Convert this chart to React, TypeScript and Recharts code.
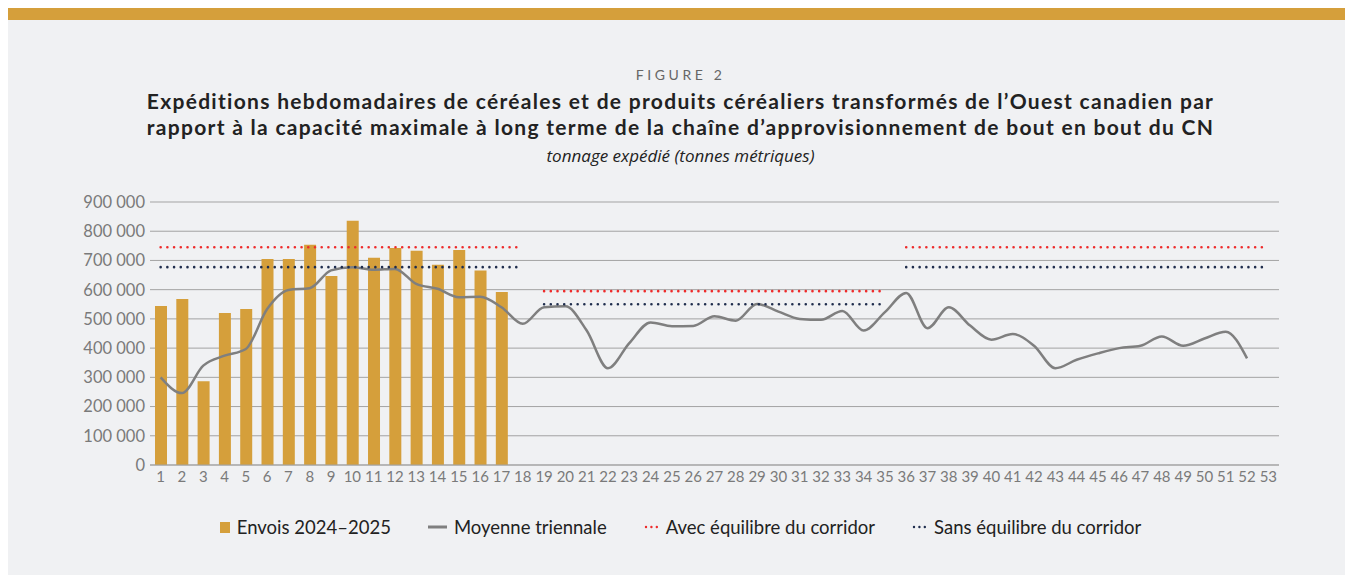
import React from 'react';
import {
  ComposedChart,
  Bar,
  Line,
  XAxis,
  YAxis,
  CartesianGrid,
} from 'recharts';

const weeks = [
  '1', '2', '3', '4', '5', '6', '7', '8', '9', '10', '11', '12', '13', '14', '15', '16', '17', '18',
  '19', '20', '21', '22', '23', '24', '25', '26', '27', '28', '29', '30', '31', '32', '33', '34', '35',
  '36', '37', '38', '39', '40', '41', '42', '43', '44', '45', '46', '47', '48', '49', '50', '51', '52', '53',
];

// Envois 2024–2025 (semaines 1 à 17)
const envois = [
  544000, 568000, 287000, 520000, 534000, 705000, 705000, 754000, 647000, 836000,
  709000, 743000, 733000, 685000, 736000, 666000, 592000,
];

// Moyenne triennale (semaines 1 à 52)
const moyenne = [
  300000, 246000, 340000, 374000, 397000, 534000, 599000, 605000, 666000, 677000,
  668000, 671000, 620000, 603000, 574000, 576000, 540000, 483000, 540000, 543000,
  460000, 331000, 417000, 488000, 475000, 476000, 509000, 494000, 551000, 525000,
  500000, 497000, 527000, 460000, 523000, 589000, 468000, 540000, 477000, 429000,
  448000, 408000, 331000, 360000, 382000, 400000, 408000, 440000, 408000, 433000,
  456000, 365000,
];

// [première semaine, dernière semaine, valeur]
const avecSegments = [
  [1, 18, 745000],
  [19, 35, 595000],
  [36, 53, 745000],
];
const sansSegments = [
  [1, 18, 677000],
  [19, 35, 550000],
  [36, 53, 677000],
];

const yTicks = [0, 100000, 200000, 300000, 400000, 500000, 600000, 700000, 800000, 900000];

const titleLines = [
  'Expéditions hebdomadaires de céréales et de produits céréaliers transformés de l’Ouest canadien par',
  'rapport à la capacité maximale à long terme de la chaîne d’approvisionnement de bout en bout du CN',
];

const GOLD = '#d59f3b';
const GRAY_LINE = '#7f7f7f';
const RED = '#ee2b2b';
const NAVY = '#1f2d4d';
const FONT = 'Lato, "Open Sans", sans-serif';

const rows = weeks.map((week, i) => {
  const row: Record<string, any> = { week, envois: envois[i], moyenne: moyenne[i] };
  const n = i + 1;
  avecSegments.forEach(([from, to, v], s) => {
    row[`avec${s}`] = n >= from && n <= to ? v : undefined;
  });
  sansSegments.forEach(([from, to, v], s) => {
    row[`sans${s}`] = n >= from && n <= to ? v : undefined;
  });
  return row;
});

const fmt = (v: number) => String(v).replace(/\B(?=(\d{3})+(?!\d))/g, ' ');

function LegendItem({ kind, color, label }: { kind: string; color: string; label: string }) {
  let mark;
  if (kind === 'bar') {
    mark = <div style={{ width: 10, height: 11, background: color }} />;
  } else if (kind === 'line') {
    mark = (
      <svg width={19} height={12}>
        <line x1={0} y1={6} x2={19} y2={6} stroke={color} strokeWidth={3} />
      </svg>
    );
  } else {
    mark = (
      <svg width={15} height={12}>
        <line x1={2} y1={6} x2={14} y2={6} stroke={color} strokeWidth={2.4} strokeLinecap="round" strokeDasharray="0.01 5.4" />
      </svg>
    );
  }
  return (
    <div style={{ display: 'flex', alignItems: 'center', gap: 7 }}>
      {mark}
      <span>{label}</span>
    </div>
  );
}

export default function App() {
  return (
    <div
      style={{
        position: 'relative',
        width: 1345,
        height: 555,
        background: '#f0f1f3',
        borderTop: `12px solid ${GOLD}`,
        fontFamily: FONT,
      }}
    >
      <div style={{ position: 'absolute', top: 47, width: '100%', textAlign: 'center', fontSize: 14, lineHeight: '16px', letterSpacing: 3.6, color: '#666' }}>
        FIGURE 2
      </div>
      {titleLines.map((line, i) => (
        <div
          key={i}
          style={{
            position: 'absolute',
            top: 68 + i * 26,
            height: 26,
            width: '100%',
            textAlign: 'center',
            fontSize: 21,
            lineHeight: '26px',
            letterSpacing: 1.3,
            fontWeight: 700,
            color: '#222',
            whiteSpace: 'nowrap',
          }}
        >
          {line}
        </div>
      ))}
      <div style={{ position: 'absolute', top: 125, width: '100%', textAlign: 'center', fontFamily: '"Open Sans", sans-serif', fontSize: 17, lineHeight: '22px', fontStyle: 'italic', color: '#222' }}>
        tonnage expédié (tonnes métriques)
      </div>

      <div style={{ position: 'absolute', top: 165, left: 0 }}>
        <ComposedChart width={1345} height={310} data={rows} margin={{ top: 17, right: 74, bottom: 0, left: 0 }}>
          <CartesianGrid vertical={false} stroke="#a3a3a3" />
          <XAxis
            dataKey="week"
            interval={0}
            tickLine={false}
            axisLine={{ stroke: '#a3a3a3' }}
            tickSize={0}
            tickMargin={6}
            height={30}
            tick={{ fill: '#7a7a7a', fontSize: 15 }}
          />
          <YAxis
            domain={[0, 900000]}
            ticks={yTicks}
            tickFormatter={fmt}
            axisLine={false}
            tickLine={false}
            tickSize={0}
            tickMargin={5}
            width={142}
            tick={{ fill: '#7a7a7a', fontSize: 16.5 }}
          />
          <Bar dataKey="envois" fill={GOLD} barSize={12} isAnimationActive={false} />
          <Line type="monotone" dataKey="moyenne" stroke={GRAY_LINE} strokeWidth={2.5} dot={false} activeDot={false} isAnimationActive={false} />
          {avecSegments.map((_, s) => (
            <Line key={`avec${s}`} type="linear" dataKey={`avec${s}`} stroke={RED} strokeWidth={2.6} strokeLinecap="round" strokeDasharray="0.01 6.7" dot={false} activeDot={false} isAnimationActive={false} />
          ))}
          {sansSegments.map((_, s) => (
            <Line key={`sans${s}`} type="linear" dataKey={`sans${s}`} stroke={NAVY} strokeWidth={2.6} strokeLinecap="round" strokeDasharray="0.01 6.7" dot={false} activeDot={false} isAnimationActive={false} />
          ))}
        </ComposedChart>
      </div>

      <div
        style={{
          position: 'absolute',
          top: 497,
          width: '100%',
          display: 'flex',
          justifyContent: 'center',
          gap: 37,
          fontSize: 18.5,
          lineHeight: '20px',
          color: '#222',
        }}
      >
        <LegendItem kind="bar" color={GOLD} label="Envois 2024–2025" />
        <LegendItem kind="line" color={GRAY_LINE} label="Moyenne triennale" />
        <LegendItem kind="dots" color={RED} label="Avec équilibre du corridor" />
        <LegendItem kind="dots" color={NAVY} label="Sans équilibre du corridor" />
      </div>
    </div>
  );
}
